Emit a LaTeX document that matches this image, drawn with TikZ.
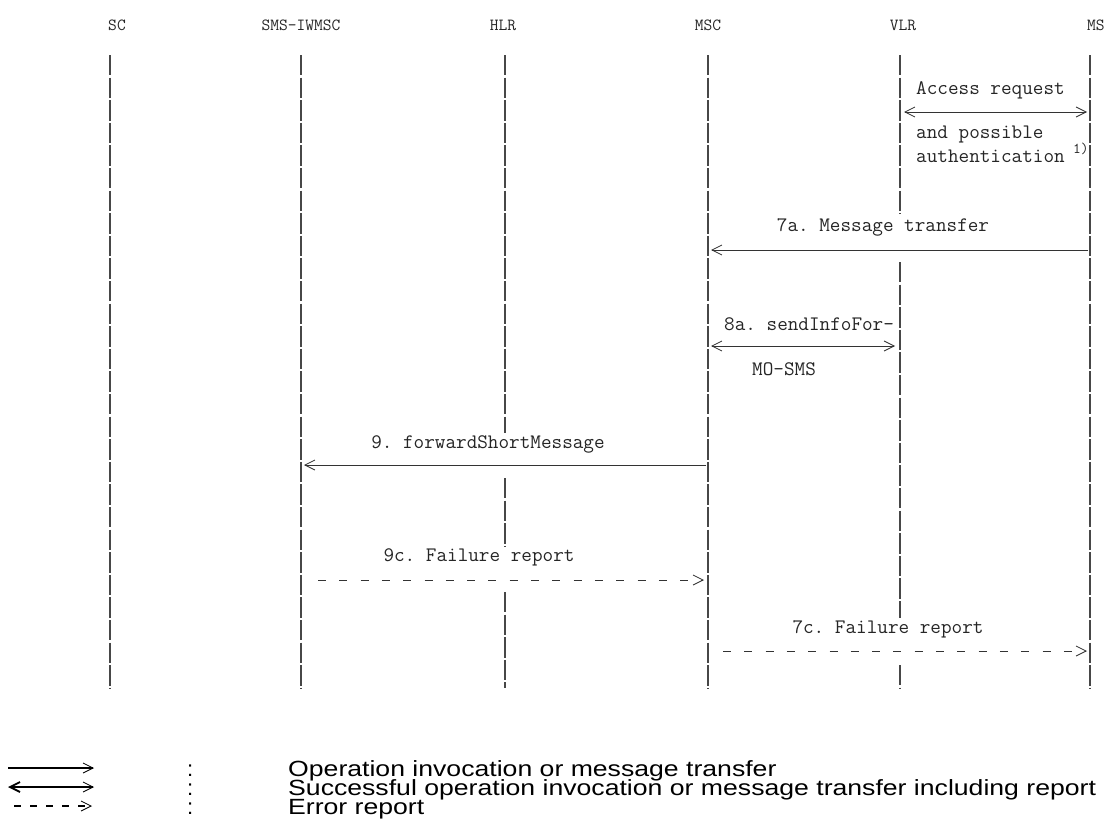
\documentclass[tikz,border=0pt]{standalone}
\usepackage{fontspec}
\setmainfont{Liberation Sans}
\usetikzlibrary{arrows.meta,calc}
\begin{document}
\frenchspacing
\begin{tikzpicture}[x=1pt,y=-1pt,
  >={Straight Barb[length=10pt,width=10pt,line width=0.8pt]},
  hdr/.style={font=\ttfamily\fontsize{17}{20}\selectfont, inner sep=0pt, text=black!85},
  lbl/.style={font=\ttfamily\fontsize{20.6}{22}\selectfont, inner sep=0pt, text=black!85},
  small/.style={font=\ttfamily\fontsize{15}{16}\selectfont, inner sep=0pt, text=black!85},
  leg/.style={font=\fontsize{22}{24}\selectfont, inner sep=0pt, anchor=base west},
  life/.style={line width=1.1pt, black!72, dash pattern=on 20.4pt off 2.2pt},
  msg/.style={line width=0.8pt, black!80},
  err/.style={line width=0.8pt, black!80, dash pattern=on 8pt off 13.3pt}
]
\useasboundingbox[fill=white] (0,0) rectangle (1104,827);

% headers
\node[hdr] (sc)  at (117,25) {SC};
\node[hdr] (iw)  at (301,25) {SMS-IWMSC};
\node[hdr] (hlr) at (503,25) {HLR};
\node[hdr] (msc) at (708,25) {MSC};
\node[hdr] (vlr) at (903,25) {VLR};
\node[hdr,anchor=west] (ms) at (1087,25) {MS};

% lifeline end points
\coordinate (sc-t) at (110,55);   \coordinate (sc-b) at (110,688);
\coordinate (iw-t) at (301,55);   \coordinate (iw-b) at (301,688);
\coordinate (hlr-t) at (505,55);  \coordinate (hlr-b) at (505,688);
\coordinate (msc-t) at (708,55);  \coordinate (msc-b) at (708,688);
\coordinate (vlr-t) at (900,55);  \coordinate (vlr-b) at (900,688);
\coordinate (ms-t) at (1090,55);  \coordinate (ms-b) at (1090,688);

% gap rows
\coordinate (g9a) at (0,433);  \coordinate (g9b) at (0,478);
\coordinate (g9ca) at (0,546); \coordinate (g9cb) at (0,592);
\coordinate (g7aa) at (0,214); \coordinate (g7ab) at (0,262);
\coordinate (g7ca) at (0,618); \coordinate (g7cb) at (0,665);

% lifelines
\draw[life] (sc-t) -- (sc-b);
\draw[life] (iw-t) -- (iw-b);
\draw[life] (hlr-t) -- (hlr-t |- g9a);
\draw[life] (hlr-t |- g9b) -- (hlr-t |- g9ca);
\draw[life] (hlr-t |- g9cb) -- (hlr-b);
\draw[life] (msc-t) -- (msc-b);
\draw[life] (vlr-t) -- (vlr-t |- g7aa);
\draw[life] (vlr-t |- g7ab) -- (vlr-t |- g7ca);
\draw[life] (vlr-t |- g7cb) -- (vlr-b);
\draw[life] (ms-t) -- (ms-b);

% Access request
\node[lbl,anchor=west] (acc) at (916,90) {Access request};
\coordinate (acc-l) at (904,112); \coordinate (acc-r) at (1087,112);
\draw[msg,<->] (acc-l) -- (acc-r);
\node[lbl,anchor=west] (acc2) at (916,134) {and possible};
\node[lbl,anchor=west] (acc3) at (916,156) {authentication};
\node[small,anchor=west] (note1) at (1073,149) {1)};

% 7a
\node[lbl] (l7a) at (883,227) {7a. Message transfer};
\coordinate (a7a-s) at (1088,250); \coordinate (a7a-e) at (711,250);
\draw[msg,->] (a7a-s) -- (a7a-e);

% 8a
\node[lbl,anchor=west] (l8a) at (724,324) {8a. sendInfoFor-};
\coordinate (a8a-l) at (711,346); \coordinate (a8a-r) at (895,346);
\draw[msg,<->] (a8a-l) -- (a8a-r);
\node[lbl,anchor=west] (l8a2) at (752,369) {MO-SMS};

% 9
\node[lbl] (l9) at (488,444) {9. forwardShortMessage};
\coordinate (a9-s) at (706,465); \coordinate (a9-e) at (304,465);
\draw[msg,->] (a9-s) -- (a9-e);

% 9c
\node[lbl] (l9c) at (479,557) {9c. Failure report};
\coordinate (a9c-s) at (318,580); \coordinate (a9c-e) at (704,580);
\draw[err,->] (a9c-s) -- (a9c-e);

% 7c
\node[lbl] (l7c) at (888,629) {7c. Failure report};
\coordinate (a7c-s) at (723,651); \coordinate (a7c-e) at (1087,651);
\draw[err,->] (a7c-s) -- (a7c-e);

% legend
\coordinate (k1a) at (8,768);  \coordinate (k1b) at (94,768);
\coordinate (k2a) at (8,787);  \coordinate (k2b) at (94,787);
\coordinate (k3a) at (14,806); \coordinate (k3b) at (92,806);
\draw[line width=1.2pt,->] (k1a) -- (k1b);
\draw[line width=1.2pt,{Straight Barb[length=10pt,width=10pt,line width=1.8pt]}->] (k2a) -- (k2b);
\draw[line width=1.2pt,dash pattern=on 7pt off 9pt,->] (k3a) -- (k3b);
\node[leg] (c1) at (187,776) {:};
\node[leg] (c2) at (187,795) {:};
\node[leg] (c3) at (187,814) {:};
\node[leg] (t1) at (288,776) {\scalebox{1.21}[1]{Operation invocation or message transfer}};
\node[leg] (t2) at (288,795) {\scalebox{1.21}[1]{Successful operation invocation or message transfer including report}};
\node[leg] (t3) at (288,814) {\scalebox{1.21}[1]{Error report}};
\end{tikzpicture}
\end{document}
